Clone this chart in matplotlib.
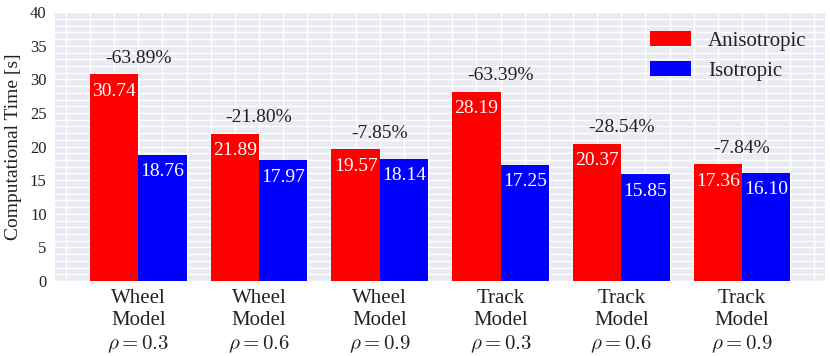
import numpy as np
import matplotlib
matplotlib.use('Agg')
import matplotlib.pyplot as plt
from matplotlib.ticker import MultipleLocator

# data
groups = ['Wheel\nModel\n$\\rho=0.3$', 'Wheel\nModel\n$\\rho=0.6$', 'Wheel\nModel\n$\\rho=0.9$',
          'Track\nModel\n$\\rho=0.3$', 'Track\nModel\n$\\rho=0.6$', 'Track\nModel\n$\\rho=0.9$']
anisotropic = [30.74, 21.89, 19.57, 28.19, 20.37, 17.36]
isotropic = [18.76, 17.97, 18.14, 17.25, 15.85, 16.10]
diff_labels = ['-63.89%', '-21.80%', '-7.85%', '-63.39%', '-28.54%', '-7.84%']

plt.rcParams['font.family'] = ['Liberation Serif', 'DejaVu Serif']
plt.rcParams['mathtext.fontset'] = 'cm'
plt.rcParams['text.color'] = '#222222'

fig = plt.figure(figsize=(8.3, 3.56), dpi=100)
ax = fig.add_axes([0.0663, 0.2107, 0.928, 0.755])

x = np.arange(len(groups))
w = 0.4
b1 = ax.bar(x - w / 2, anisotropic, w, color='#ff0000', label='Anisotropic', zorder=3)
b2 = ax.bar(x + w / 2, isotropic, w, color='#0000ff', label='Isotropic', zorder=3)

for i in range(len(groups)):
    ax.text(x[i] - w / 2, anisotropic[i] - 2.5, '%.2f' % anisotropic[i], color='white',
            ha='center', va='center', fontsize=14, zorder=4)
    ax.text(x[i] + w / 2, isotropic[i] - 2.5, '%.2f' % isotropic[i], color='white',
            ha='center', va='center', fontsize=14, zorder=4)
    ax.text(x[i], anisotropic[i] + 2.4, diff_labels[i], ha='center', va='center',
            fontsize=14, zorder=4)

ax.set_ylim(0, 40)
ax.set_facecolor('#EAEAF2')
for s in ax.spines.values():
    s.set_visible(False)
ax.set_xticks(x)
ax.set_xticklabels(groups, fontsize=15, color='#222222')
ax.xaxis.set_minor_locator(MultipleLocator(0.2))
ax.yaxis.set_major_locator(MultipleLocator(5))
ax.yaxis.set_minor_locator(MultipleLocator(1))
ax.tick_params(axis='both', which='both', length=0)
ax.tick_params(axis='y', labelsize=12, labelcolor='#222222', pad=6)
ax.tick_params(axis='x', pad=6)
ax.grid(True, which='both', color='white', linewidth=1.0, zorder=0)
ax.set_axisbelow(True)
ax.set_ylabel('Computational Time [s]', fontsize=14, color='#222222', labelpad=6)

ax.legend(loc='upper right', frameon=False, fontsize=15, handlelength=2.0,
          handleheight=0.7, labelspacing=0.5, handletextpad=0.8)

fig.savefig('out.png', dpi=100)
